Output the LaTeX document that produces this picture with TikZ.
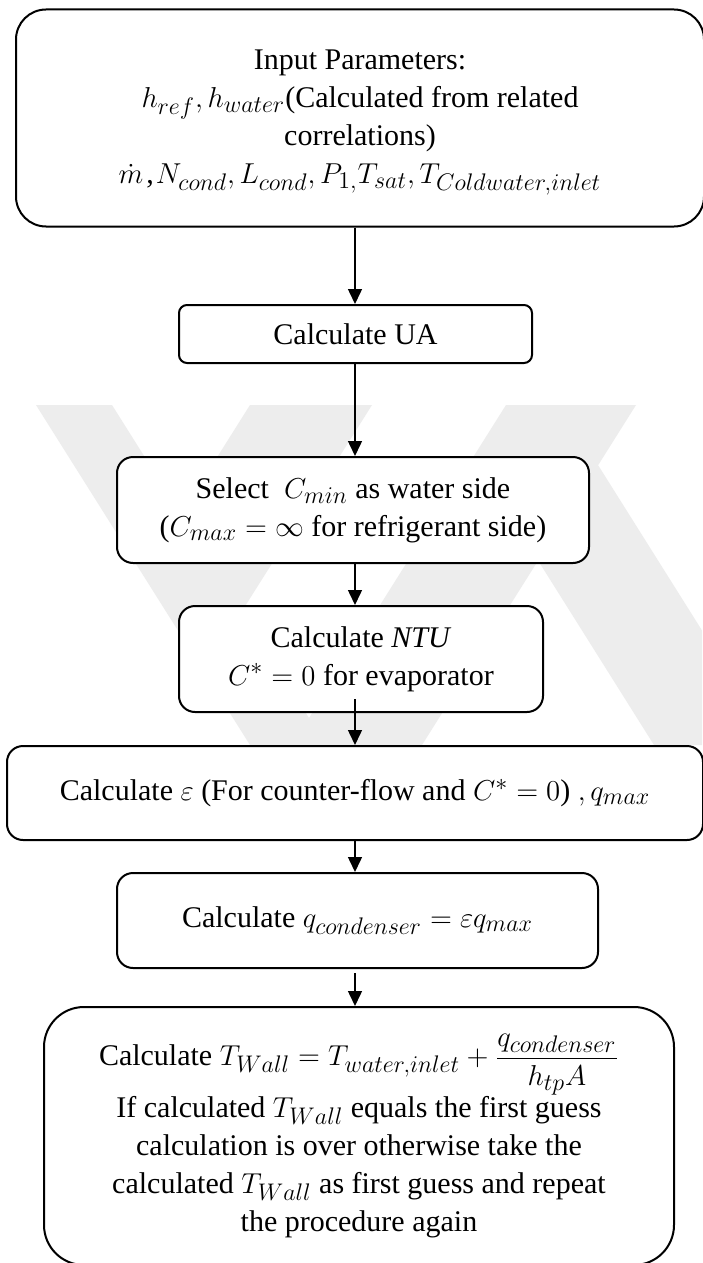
\documentclass[tikz,border=0pt]{standalone}
\usepackage{fontspec}
\setmainfont{Liberation Serif}
\usetikzlibrary{arrows.meta}
\DeclareMathSizes{15}{15}{12}{10}
\definecolor{wmgray}{gray}{0.93}
\tikzset{
  flowbox/.style={draw=black, line width=1pt, fill=white, inner sep=0pt,
    align=center, font=\fontsize{15}{19}\selectfont},
  arr/.style={line width=0.75pt, -{Triangle[length=7.5pt, width=7pt]}},
  wm/.style={fill=wmgray, draw=none}
}
\begin{document}
\begin{tikzpicture}[x=0.5pt, y=-0.5pt]
  % page frame
  \useasboundingbox (0,0) rectangle (702,1263);
  \fill[white] (0,0) rectangle (702,1263);

  % faint background emblem
  \begin{scope}
    \clip (0,0) rectangle (702,1263);
    \fill[wm] (36,405) -- (112,405) -- (326,745) -- (250,745) -- cycle;
    \fill[wm] (250,405) -- (372,405) -- (242,611) -- (143,575) -- cycle;
    \fill[wm] (506,405) -- (636,405) -- (422,745) -- (292,745) -- cycle;
    \fill[wm] (473,457) -- (598,465) -- (774,745) -- (654,745) -- cycle;
  \end{scope}

  % axis of the connectors
  \coordinate (axis) at (355,0);

  % process boxes
  \node[flowbox, rounded corners=15pt, minimum width=344pt, minimum height=108.5pt]
    (inp) at (360,118)
    {\rule{0pt}{14pt}Input Parameters:\\
     $h_{ref}, h_{water}$(Calculated from related\\
     correlations)\\
     $\dot{m}$\kern1.5pt,\kern1pt$N_{cond}, L_{cond}, P_{1,}T_{sat}, T_{Coldwater,inlet}$};

  \node[flowbox, rounded corners=4pt, minimum width=176.5pt, minimum height=29pt]
    (ua) at (355.5,334) {Calculate UA};

  \node[flowbox, rounded corners=8pt, minimum width=236pt, minimum height=53pt]
    (sel) at (353,510)
    {Select~~$C_{min}$ as water side\\
     ($C_{max} = \infty$ for refrigerant side)};

  \node[flowbox, rounded corners=8pt, minimum width=182pt, minimum height=53pt]
    (ntu) at (361,659)
    {Calculate \textit{NTU}\\
     $C^{*} = 0$ for evaporator};

  \node[flowbox, rounded corners=8pt, minimum width=348pt, minimum height=47pt]
    (eps) at (355,793)
    {Calculate $\varepsilon$ (For counter-flow and $C^{*} = 0$) $, q_{max}$};

  \node[flowbox, rounded corners=8pt, minimum width=240.5pt, minimum height=47.5pt]
    (qc) at (357.5,920.5)
    {Calculate $q_{condenser} = \varepsilon q_{max}$};

  \node[flowbox, rounded corners=20pt, minimum width=315pt, minimum height=129pt]
    (wall) at (359,1136)
    {Calculate $T_{Wall} = T_{water,inlet} + {\displaystyle\frac{q_{condenser}}{h_{tp}A}}$\\
     If calculated $T_{Wall}$ equals the first guess\\
     calculation is over otherwise take the\\
     calculated $T_{Wall}$ as first guess and repeat\\
     the procedure again};

  % connectors
  \draw[arr] (inp.south -| axis) -- (ua.north -| axis);
  \draw[arr] (ua.south -| axis) -- (sel.north -| axis);
  \draw[arr] (sel.south -| axis) -- (ntu.north -| axis);
  \draw[arr] ([yshift=7pt]ntu.south -| axis) -- (eps.north -| axis);
  \draw[arr] (eps.south -| axis) -- (qc.north -| axis);
  \draw[arr] ([yshift=-2pt]qc.south -| axis) -- (wall.north -| axis);
\end{tikzpicture}
\end{document}
